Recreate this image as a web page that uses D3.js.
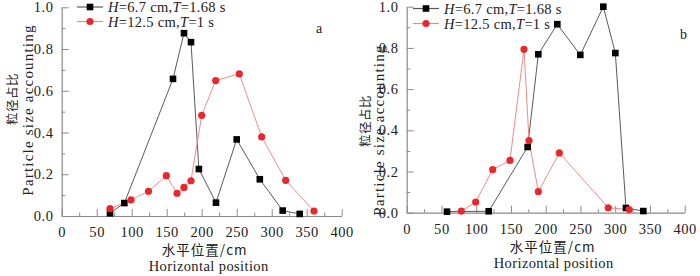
<!DOCTYPE html>
<html>
<head>
<meta charset="utf-8">
<script src="https://cdn.jsdelivr.net/npm/d3@7"></script>
<style>
  body { margin: 0; background: #fff; }
  svg { display: block; font-family: "Liberation Serif", "Times New Roman", serif; }
</style>
</head>
<body>
<svg id="canvas"></svg>
<script>
let width = 700;
let height = 276;

// panel a
let aBlackX = [69, 89.5, 159, 174.7, 184.7, 196, 220.4, 250, 283, 315.7, 340];
let aBlackY = [0.013, 0.062, 0.657, 0.876, 0.833, 0.225, 0.064, 0.367, 0.176, 0.026, 0.01];
let aRedX = [69, 99, 124, 149.5, 164.7, 174.7, 184.7, 200, 220, 253.7, 285.7, 320, 360.4];
let aRedY = [0.035, 0.077, 0.118, 0.193, 0.109, 0.137, 0.169, 0.482, 0.649, 0.681, 0.379, 0.171, 0.024];

// panel b
let bBlackX = [58, 118, 174, 189.4, 216.7, 249.8, 282.9, 300.2, 315.5, 340.5];
let bBlackY = [0.005, 0.007, 0.319, 0.769, 0.915, 0.766, 1.0, 0.775, 0.023, 0.008];
let bRedX = [78.6, 99.3, 123.7, 148.6, 168.8, 176, 189.4, 219.6, 290, 320];
let bRedY = [0.008, 0.052, 0.209, 0.254, 0.793, 0.35, 0.102, 0.29, 0.024, 0.015];

let xTicks = [0, 50, 100, 150, 200, 250, 300, 350, 400];
let yTicks = [0, 0.2, 0.4, 0.6, 0.8, 1.0];
let legendLabels = [
  ["H", "=6.7 cm,", "T", "=1.68 s"],
  ["H", "=12.5 cm,", "T", "=1 s"]
];

let panels = [
  { letter: "a", left: 61.7, right: 341.7, top: 7.3, bottom: 216, black: [aBlackX, aBlackY], red: [aRedX, aRedY],
    letterPos: [316, 33], legendX: 77, legendY: 7, legendGap: 14.5, titleShift: 7, cjkShift: -4,
    yTitleX: [17, 33], yTitleY: [99, 110] },
  { letter: "b", left: 406.7, right: 684.7, top: 6.7, bottom: 212.7, black: [bBlackX, bBlackY], red: [bRedX, bRedY],
    letterPos: [680, 39], legendX: 413, legendY: 8.5, legendGap: 15, titleShift: 8, cjkShift: -1,
    yTitleX: [370, 384], yTitleY: [121, 130] }
];

let grey = "#8a8a8a";
let blackLine = "#5a5a5a";
let redLine = "#f08a8a";
let redDot = "#e8282d";

let canvas = d3.select("#canvas").attr("width", width).attr("height", height);

let zip = (xs, ys) => xs.map((x, i) => ({ x: x, y: ys[i] }));

let drawPanel = (p) => {
  let xScale = d3.scaleLinear().domain([0, 400]).range([p.left, p.right]);
  let yScale = d3.scaleLinear().domain([0, 1]).range([p.bottom, p.top]);

  let g = canvas.append("g");

  // minor ticks
  let xMinor = d3.axisBottom(xScale).tickValues(d3.range(25, 400, 50)).tickSize(-3.5).tickFormat("");
  g.append("g").attr("transform", "translate(0," + p.bottom + ")").call(xMinor)
    .call(s => s.select(".domain").remove())
    .selectAll("line").attr("stroke", grey);
  let yMinor = d3.axisLeft(yScale).tickValues([0.1, 0.3, 0.5, 0.7, 0.9]).tickSize(-3.5).tickFormat("");
  g.append("g").attr("transform", "translate(" + p.left + ",0)").call(yMinor)
    .call(s => s.select(".domain").remove())
    .selectAll("line").attr("stroke", grey);

  // major axes
  let xAxis = d3.axisBottom(xScale).tickValues(xTicks).tickSize(-7).tickPadding(11).tickSizeOuter(0);
  let xg = g.append("g").attr("transform", "translate(0," + p.bottom + ")").call(xAxis);
  xg.select(".domain").attr("stroke", grey).attr("stroke-width", 1.2);
  xg.selectAll("line").attr("stroke", grey);
  xg.selectAll("text").attr("font-size", 14.5).attr("fill", "#222").attr("font-family", "Liberation Serif")
    .attr("letter-spacing", 0.6);

  let yAxis = d3.axisLeft(yScale).tickValues(yTicks).tickSize(-7).tickPadding(8).tickSizeOuter(0)
    .tickFormat(d3.format(".1f"));
  let yg = g.append("g").attr("transform", "translate(" + p.left + ",0)").call(yAxis);
  yg.select(".domain").attr("stroke", grey).attr("stroke-width", 1.2);
  yg.selectAll("line").attr("stroke", grey);
  yg.selectAll("text").attr("font-size", 14.5).attr("fill", "#222").attr("font-family", "Liberation Serif")
    .attr("letter-spacing", 0.6);

  let line = d3.line().x(d => xScale(d.x)).y(d => yScale(d.y));

  let red = zip(p.red[0], p.red[1]);
  let black = zip(p.black[0], p.black[1]);

  g.append("path").datum(black).attr("d", line).attr("fill", "none").attr("stroke", blackLine).attr("stroke-width", 1);
  g.append("path").datum(red).attr("d", line).attr("fill", "none").attr("stroke", redLine).attr("stroke-width", 1);

  g.selectAll(".sq").data(black).enter().append("rect")
    .attr("x", d => xScale(d.x) - 3.3).attr("y", d => yScale(d.y) - 3.3)
    .attr("width", 6.6).attr("height", 6.6).attr("fill", "#000");
  g.selectAll(".dot").data(red).enter().append("circle")
    .attr("cx", d => xScale(d.x)).attr("cy", d => yScale(d.y)).attr("r", 3.6).attr("fill", redDot);

  // legend
  legendLabels.forEach((lab, i) => {
    let ly = p.legendY + i * p.legendGap;
    let lg = g.append("g");
    lg.append("line").attr("x1", p.legendX).attr("x2", p.legendX + 26).attr("y1", ly).attr("y2", ly)
      .attr("stroke", i == 0 ? blackLine : redLine).attr("stroke-width", 1.2);
    if (i == 0) {
      lg.append("rect").attr("x", p.legendX + 13 - 3.3).attr("y", ly - 3.3).attr("width", 6.6).attr("height", 6.6).attr("fill", "#000");
    } else {
      lg.append("circle").attr("cx", p.legendX + 13).attr("cy", ly).attr("r", 3.6).attr("fill", redDot);
    }
    let t = lg.append("text").attr("x", p.legendX + 31).attr("y", ly + 5)
      .attr("font-size", 14.5).attr("letter-spacing", 0.3).attr("fill", "#222");
    t.append("tspan").attr("font-style", "italic").text(lab[0]);
    t.append("tspan").text(lab[1]);
    t.append("tspan").attr("font-style", "italic").text(lab[2]);
    t.append("tspan").text(lab[3]);
  });

  g.append("text").attr("x", p.letterPos[0]).attr("y", p.letterPos[1]).attr("font-size", 14).attr("fill", "#222").text(p.letter);

  // axis titles
  let cx = (p.left + p.right) / 2 + p.titleShift;
  g.append("text").attr("x", cx + p.cjkShift).attr("y", p.bottom + 39).attr("text-anchor", "middle")
    .attr("font-size", 13.5).attr("letter-spacing", 1).attr("fill", "#222")
    .attr("font-family", "Noto Sans CJK SC")
    .text("水平位置/cm");
  g.append("text").attr("x", cx).attr("y", p.bottom + 55).attr("text-anchor", "middle")
    .attr("font-size", 14.5).attr("fill", "#222").attr("letter-spacing", 0.4).text("Horizontal position");

  g.append("text").attr("transform", "translate(" + p.yTitleX[0] + "," + p.yTitleY[0] + ") rotate(-90)")
    .attr("text-anchor", "middle").attr("font-size", 12.5).attr("letter-spacing", 0.5).attr("fill", "#222")
    .attr("font-family", "Noto Sans CJK SC").text("粒径占比");
  g.append("text").attr("transform", "translate(" + p.yTitleX[1] + "," + p.yTitleY[1] + ") rotate(-90)")
    .attr("text-anchor", "middle").attr("font-size", 15).attr("letter-spacing", 1.2).attr("fill", "#222")
    .text("Particle size accounting");
};

panels.forEach(drawPanel);
</script>
</body>
</html>
